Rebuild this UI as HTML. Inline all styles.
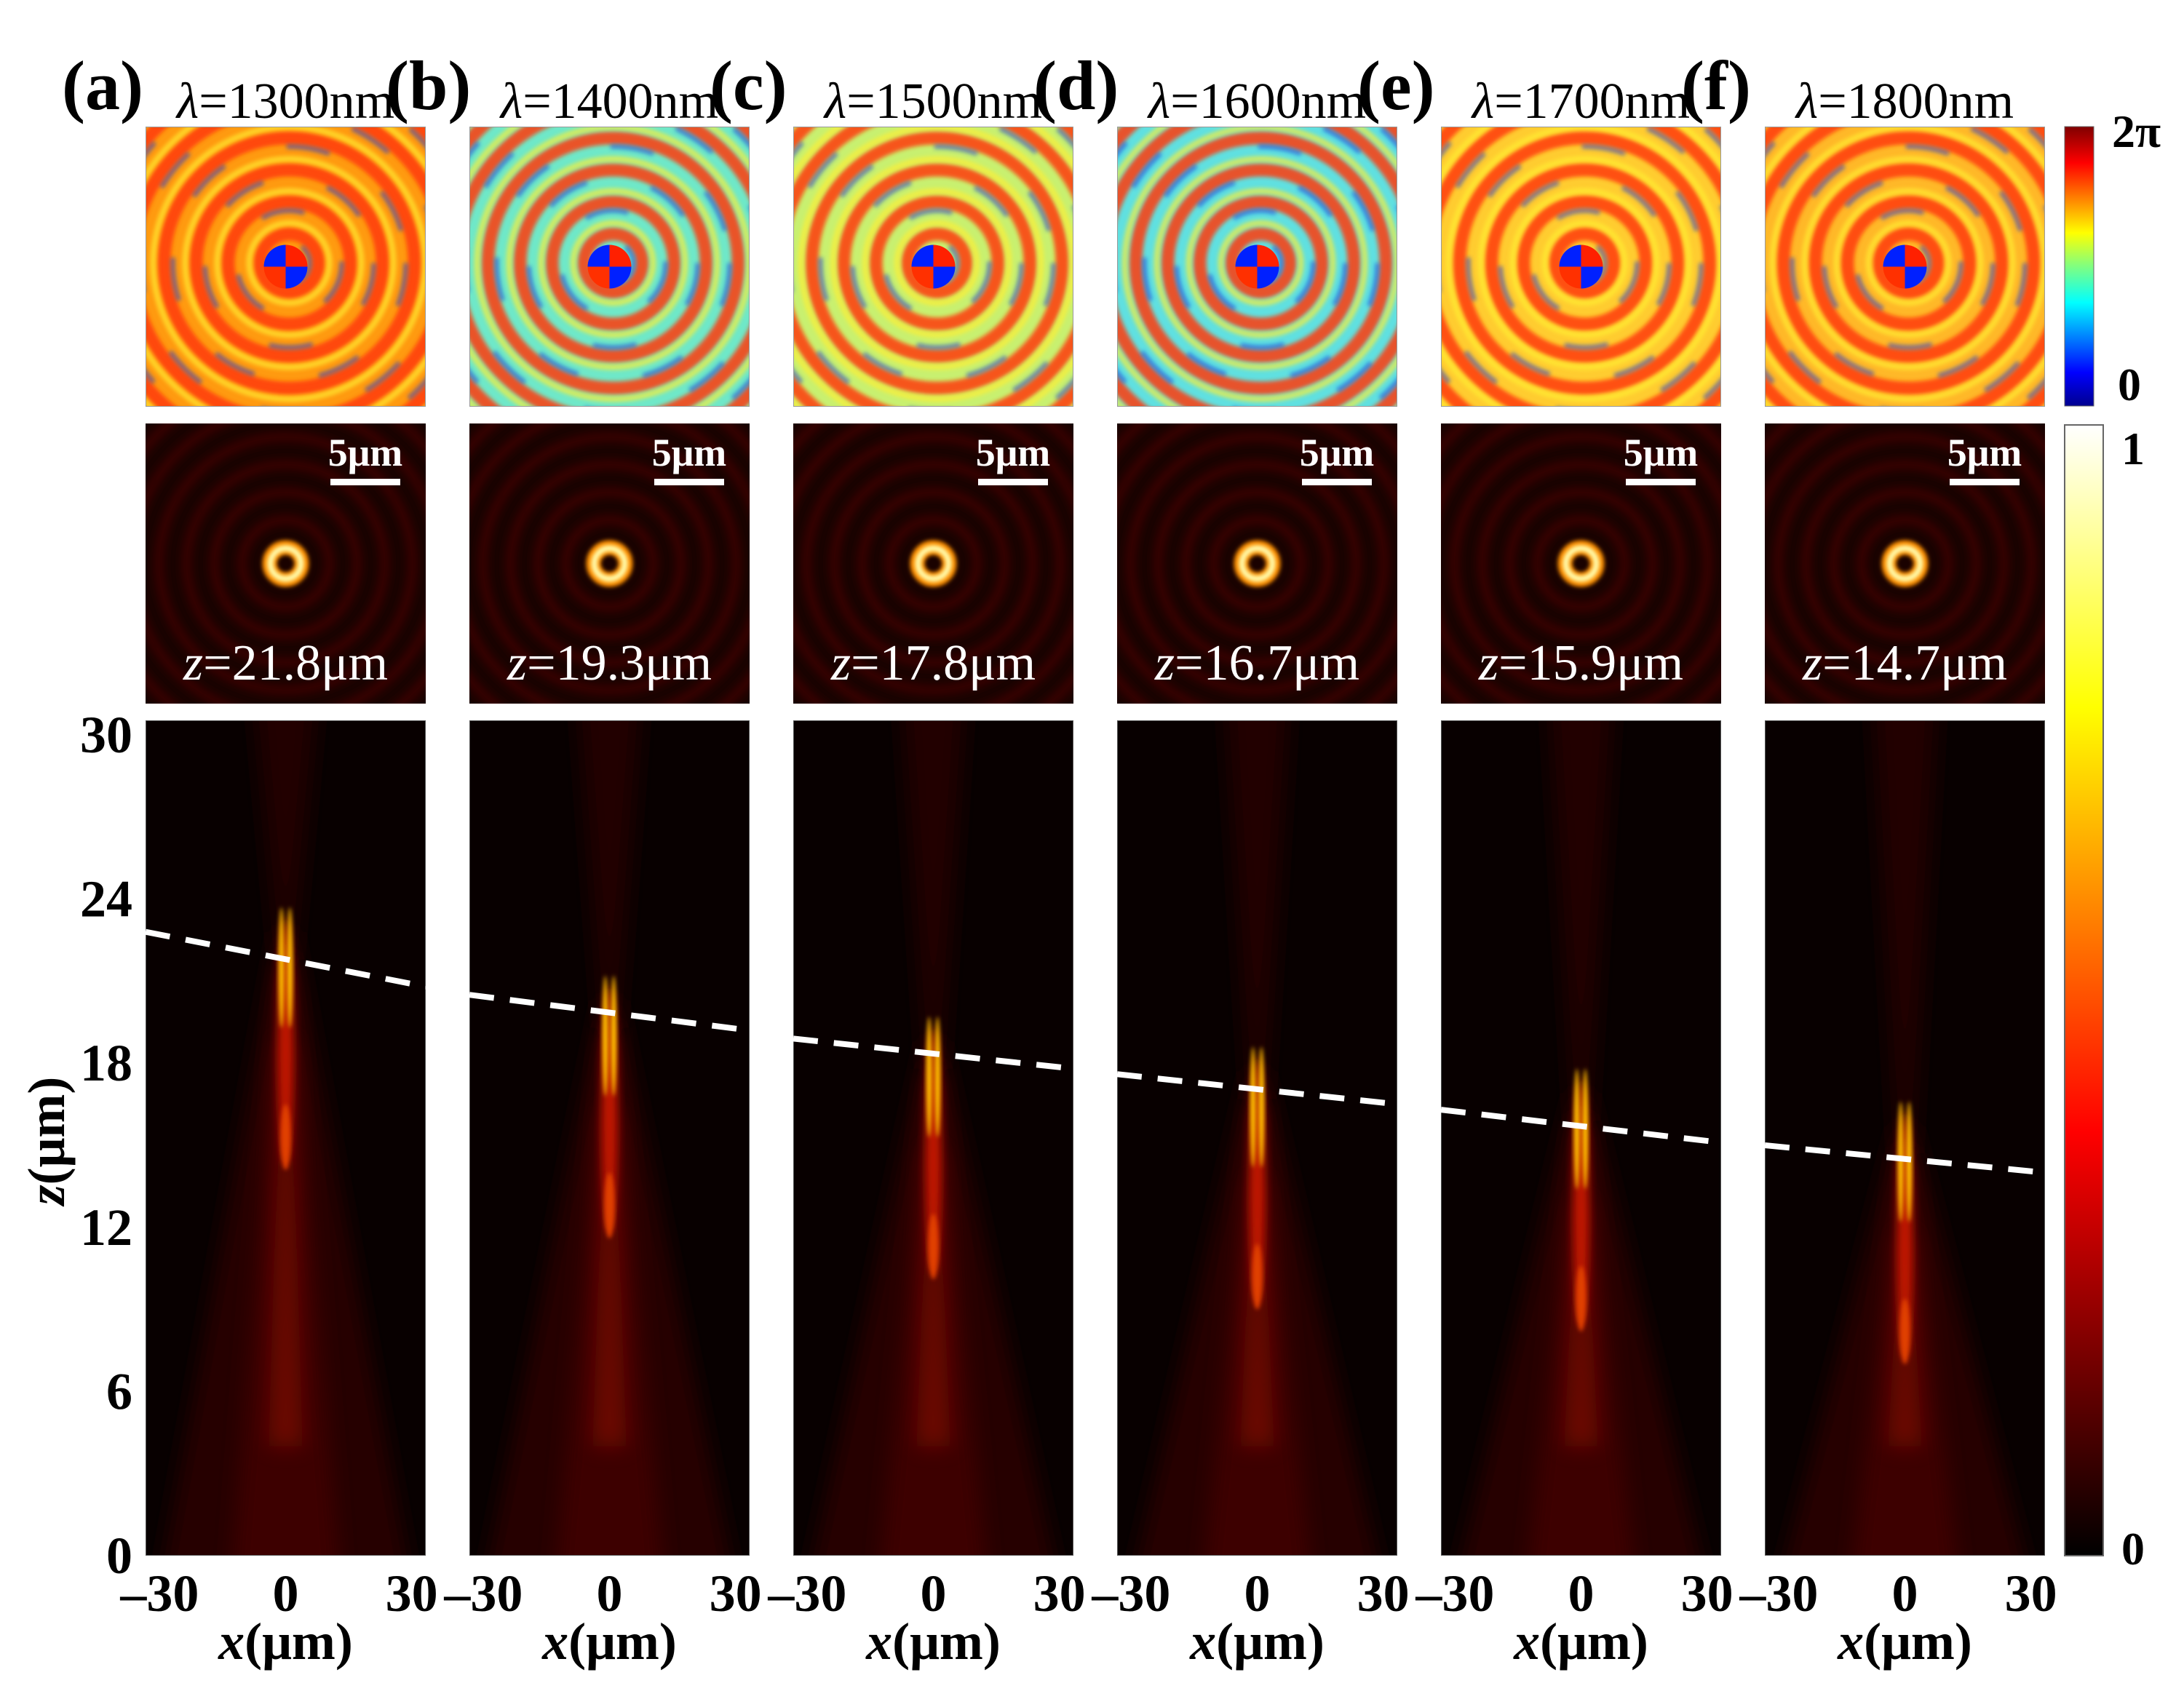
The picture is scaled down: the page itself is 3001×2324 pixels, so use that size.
<!DOCTYPE html>
<html><head><meta charset="utf-8">
<style>
html,body{margin:0;padding:0;background:#fff;}
svg{display:block;font-family:"Liberation Serif",serif;}
</style></head>
<body>
<svg id="fig" width="3001" height="2324" viewBox="0 0 3001 2324" xmlns="http://www.w3.org/2000/svg">
<defs>
<filter id="b3" x="-50%" y="-50%" width="200%" height="200%"><feGaussianBlur stdDeviation="3"/></filter>
<filter id="b6" x="-50%" y="-50%" width="200%" height="200%"><feGaussianBlur stdDeviation="6"/></filter>
<filter id="b12" x="-50%" y="-50%" width="200%" height="200%"><feGaussianBlur stdDeviation="14"/></filter>
<linearGradient id="jet" x1="0" y1="1" x2="0" y2="0">
<stop offset="0" stop-color="#00008f"/><stop offset="0.12" stop-color="#0000ff"/><stop offset="0.37" stop-color="#00ffff"/><stop offset="0.5" stop-color="#80ff80"/><stop offset="0.62" stop-color="#ffff00"/><stop offset="0.87" stop-color="#ff0000"/><stop offset="1" stop-color="#800000"/>
</linearGradient>
<linearGradient id="hot" x1="0" y1="1" x2="0" y2="0">
<stop offset="0" stop-color="#000"/><stop offset="0.375" stop-color="#ff0000"/><stop offset="0.75" stop-color="#ffff00"/><stop offset="1" stop-color="#fff"/>
</linearGradient>
<clipPath id="phclip"><rect x="0" y="0" width="385" height="385"/></clipPath>
<clipPath id="beamclip"><rect x="0" y="0" width="385" height="1148"/></clipPath>
</defs>
<g id="root"></g>
</svg>
<script>
const labels = ['(a)','(b)','(c)','(d)','(e)','(f)'];
const wavelengths = [1300,1400,1500,1600,1700,1800];
const focusZ = [21.8,19.3,17.8,16.7,15.9,14.7];
const dashLeftZ = [22.8,20.5,18.9,17.6,16.3,15.0];
const dashRightZ = [20.8,19.2,17.8,16.5,15.1,14.0];
const phaseBase = ['#ff9a10','#6fe8c8','#c8f070','#60e0e0','#ffcc30','#ffb828'];
const zTicks = [0,6,12,18,24,30];
const xTicks = [-30,0,30];

const NS='http://www.w3.org/2000/svg';
const root=document.getElementById('root');
function mk(tag,attrs,parent){const e=document.createElementNS(NS,tag);for(const k in attrs)e.setAttribute(k,attrs[k]);(parent||root).appendChild(e);return e;}
function txt(s,attrs,parent){const e=mk('text',attrs,parent);e.textContent=s;return e;}

const colX0=200, colStep=445, W=385;
const phY=174, inY=582, bmY=990, bmBot=2138;
const zScale = v => 2138 - v*37.6;
const xScale = (i,v) => colX0+i*colStep+W/2 + v*5.77;

labels.forEach((lab,i)=>{
  const x0=colX0+i*colStep;
  let t=txt(lab,{x:x0-115,y:150,'font-size':96,'font-weight':'bold'});
  
  
  t=txt('',{x:x0+W/2,y:162,'font-size':70,'text-anchor':'middle'});
  t.innerHTML='<tspan font-style="italic">λ</tspan>='+wavelengths[i]+'nm';
  
  

  // phase map
  const pg=mk('g',{transform:`translate(${x0},${phY})`,'clip-path':'url(#phclip)'});
  
  
  mk('rect',{x:0,y:0,width:W,height:W,fill:phaseBase[i]},pg);
  const cx=W/2, cy=W/2;
  for(let r=40;r<300;r+=44){
    const off=(r/44)%2?5:-5;
    mk('circle',{cx:cx+off,cy:cy-off,r:r,fill:'none',stroke:'#ff3a10',"stroke-width":18,opacity:0.85,filter:'url(#b3)'},pg);
    mk('circle',{cx:cx+off,cy:cy-off,r:r+15,fill:'none',stroke:'#ffee30',"stroke-width":8,opacity:0.7,filter:'url(#b3)'},pg);
    mk('circle',{cx:cx+off,cy:cy-off,r:r-12,fill:'none',stroke:'#1030e0',"stroke-width":6,opacity:0.55,'stroke-dasharray':'60 90',filter:'url(#b3)'},pg);
  }
  mk('path',{d:`M${cx} ${cy} L${cx-30} ${cy} A30 30 0 0 1 ${cx} ${cy-30} Z`,fill:'#0020ff'},pg);
  mk('path',{d:`M${cx} ${cy} L${cx} ${cy-30} A30 30 0 0 1 ${cx+30} ${cy} Z`,fill:'#ff2000'},pg);
  mk('path',{d:`M${cx} ${cy} L${cx+30} ${cy} A30 30 0 0 1 ${cx} ${cy+30} Z`,fill:'#0020ff'},pg);
  mk('path',{d:`M${cx} ${cy} L${cx} ${cy+30} A30 30 0 0 1 ${cx-30} ${cy} Z`,fill:'#ff3000'},pg);
  mk('rect',{x:0.5,y:0.5,width:W-1,height:W-1,fill:'none',stroke:'#999','stroke-width':1},pg);

  // intensity map
  const ig=mk('g',{transform:`translate(${x0},${inY})`,'clip-path':'url(#phclip)'});
  
  
  mk('rect',{x:0,y:0,width:W,height:W,fill:'#1a0200'},ig);
  for(let r=60;r<280;r+=38){
    mk('circle',{cx:cx,cy:cy,r:r,fill:'none',stroke:'#3a0600','stroke-width':12,filter:'url(#b6)'},ig);
  }
  mk('circle',{cx:cx,cy:cy,r:22,fill:'none',stroke:'#ff9000','stroke-width':20,filter:'url(#b3)'},ig);
  mk('circle',{cx:cx,cy:cy,r:21,fill:'none',stroke:'#ffffb0','stroke-width':8,filter:'url(#b3)'},ig);
  mk('rect',{x:254,y:76,width:96,height:9,fill:'#fff'},ig);
  t=txt('5μm',{x:302,y:58,'font-size':54,'font-weight':'bold',fill:'#fff','text-anchor':'middle'},ig);
  
  
  t=txt('',{x:W/2,y:352,'font-size':70,fill:'#fff','text-anchor':'middle'},ig);
  t.innerHTML='<tspan font-style="italic">z</tspan>='+focusZ[i]+'μm';
  
  

  // beam propagation
  const bg=mk('g',{transform:`translate(${x0},${bmY})`});
  
  
  const inner=mk('g',{'clip-path':'url(#beamclip)'},bg);
  mk('rect',{x:0,y:0,width:W,height:bmBot-bmY,fill:'#080000'},inner);
  const X=v=>xScale(i,v)-x0, Y=v=>zScale(v)-bmY;
  const f=focusZ[i];
  mk('polygon',{points:`${X(-30)},${Y(-1)} ${X(-2)},${Y(f+1)} ${X(2)},${Y(f+1)} ${X(30)},${Y(-1)}`,fill:'#250100',filter:'url(#b12)'},inner);
  mk('polygon',{points:`${X(-13)},${Y(-1)} ${X(-1.5)},${Y(f)} ${X(1.5)},${Y(f)} ${X(13)},${Y(-1)}`,fill:'#3c0300',filter:'url(#b12)'},inner);
  mk('polygon',{points:`${X(-2)},${Y(f)} ${X(-8)},${Y(32)} ${X(8)},${Y(32)} ${X(2)},${Y(f)}`,fill:'#200100',filter:'url(#b12)'},inner);
  mk('polygon',{points:`${X(-4)},${Y(4)} ${X(-1.2)},${Y(f-3)} ${X(1.2)},${Y(f-3)} ${X(4)},${Y(4)}`,fill:'#801000',opacity:0.7,filter:'url(#b12)'},inner);
  mk('ellipse',{cx:X(0),cy:Y(f-3),rx:11,ry:Y(0)-Y(4.5),fill:'#c01800',filter:'url(#b6)'},inner);
  mk('ellipse',{cx:X(-1),cy:Y(f-0.3),rx:4,ry:Y(0)-Y(2.2),fill:'#ffc000',filter:'url(#b3)'},inner);
  mk('ellipse',{cx:X(1),cy:Y(f-0.3),rx:4,ry:Y(0)-Y(2.2),fill:'#ffc000',filter:'url(#b3)'},inner);
  mk('ellipse',{cx:X(0),cy:Y(f-6.5),rx:7,ry:Y(0)-Y(1.2),fill:'#e04000',filter:'url(#b3)'},inner);
  mk('rect',{x:0.5,y:0.5,width:W-1,height:bmBot-bmY-1,fill:'none',stroke:'#555','stroke-width':1},bg);
  const dl=mk('line',{x1:0,y1:Y(dashLeftZ[i]),x2:W,y2:Y(dashRightZ[i]),stroke:'#fff','stroke-width':8,'stroke-dasharray':'34 22'},bg);
  
  

  xTicks.forEach(v=>{
    const tk=txt((v<0?'\u201330':String(v)),{x:xScale(i,v),y:2214,'font-size':72,'font-weight':'bold','text-anchor':'middle'});
    
    
  });
  t=txt('',{x:x0+W/2,y:2280,'font-size':72,'font-weight':'bold','text-anchor':'middle'});
  t.innerHTML='<tspan font-style="italic">x</tspan>(μm)';
  
  
});

zTicks.forEach(v=>{
  const tk=txt(String(v),{x:182,y:zScale(v)+24,'font-size':72,'font-weight':'bold','text-anchor':'end'});
  
  
});
let zt=txt('',{x:0,y:0,'font-size':72,'font-weight':'bold','text-anchor':'middle',transform:'translate(88,1568) rotate(-90)'});
zt.innerHTML='<tspan font-style="italic">z</tspan>(μm)';



let cb=mk('rect',{x:2837,y:174,width:40,height:384,fill:'url(#jet)',stroke:'#666','stroke-width':1});


cb=mk('rect',{x:2837,y:584,width:53,height:1554,fill:'url(#hot)',stroke:'#666','stroke-width':2});


[['2π',2902,202],['0',2910,550],['1',2915,638],['0',2915,2150]].forEach(a=>{
  const e=txt(a[0],{x:a[1],y:a[2],'font-size':64,'font-weight':'bold'});
  
  
});
</script>
</body></html>
